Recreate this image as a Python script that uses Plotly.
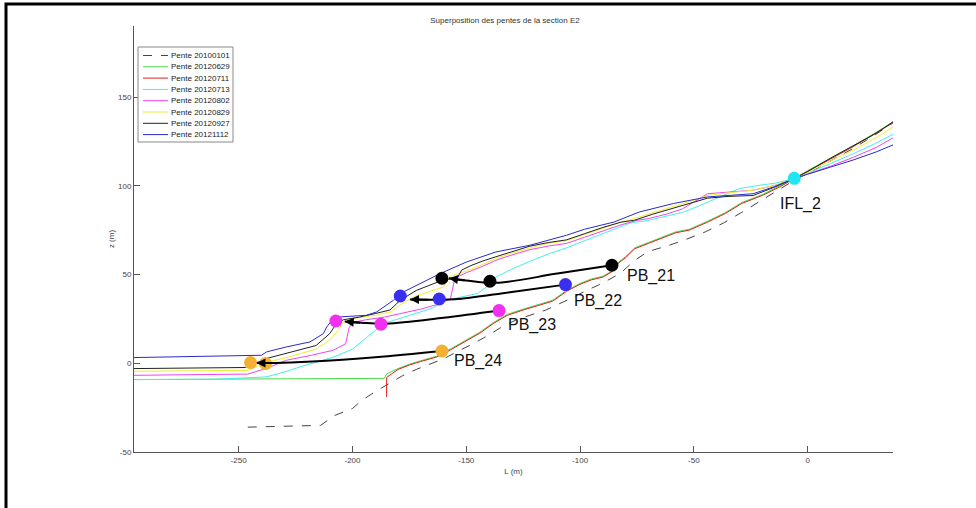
import plotly.graph_objects as go

# ---------------- data ----------------
series_names = ["Pente 20100101", "Pente 20120629", "Pente 20120711", "Pente 20120713",
                "Pente 20120802", "Pente 20120829", "Pente 20120927", "Pente 20121112"]

x_20100101 = [-246, -214, -208, -200, -196, -190, -184, -178, -172, -165, -160, -154, -147, -140, -135,
              -128, -122, -115, -110, -104, -98, -92, -86, -82, -76, -70, -62, -55, -45, -37, -29, -20,
              -12, -6, 0, 10, 20, 30, 37.5]
y_20100101 = [-36, -35, -29.5, -25.5, -21, -16, -11.5, -7, -3.5, 0, 2.5, 6.5, 11, 16, 20,
              24.5, 27, 30, 33, 36.5, 40.5, 44, 48, 51, 58, 63, 66, 69, 74, 79, 85, 92,
              98.5, 103, 107, 114, 121, 129, 135.5]

x_20120629 = [-296, -250, -220, -186, -185, -180, -175, -170, -163, -157, -150, -144, -138, -132, -125,
              -118, -112, -106, -100, -95, -90, -86, -84, -80, -76, -70, -65, -58, -52, -44, -36, -29,
              -20, -12, -6, 0, 10, 20, 30, 37.5]
y_20120629 = [-9.2, -9, -8.8, -8.5, -6, -3, -0.5, 1.5, 4, 8, 13, 17.5, 23, 27.5, 30.5,
              33, 35.5, 41, 45, 47.5, 49, 52, 56, 60, 65, 68, 70.5, 74, 75.5, 80, 85, 90.5,
              95, 100, 104, 108.5, 115.5, 122.5, 130, 136]

x_20120711 = [-185, -185, -180, -175, -170, -163, -157, -150, -144, -138, -132, -125,
              -118, -112, -106, -100, -95, -90, -86, -84, -80, -76, -70, -65, -58, -52, -44, -36, -29,
              -20, -12, -6, 0, 10, 20, 30, 37.5]
y_20120711 = [-19, -8, -3.5, -1, 1, 3.5, 7.5, 12.5, 17, 22.5, 27, 30,
              32.5, 35, 40.5, 44.5, 47, 48.5, 51.5, 55.5, 59.5, 64.5, 67.5, 70, 73.5, 75, 79.5, 84.5, 90,
              94.5, 99.5, 104, 108, 115, 122, 129.5, 135.5]

x_20120713 = [-296, -260, -238, -230, -223, -215, -208, -200, -194, -188, -186, -180, -173, -165, -159,
              -152, -145, -140, -137, -130, -122, -114, -106, -98, -90, -85, -78, -70, -62, -55, -48,
              -40, -30, -20, -14, -6, 0, 10, 20, 30, 37.5]
y_20120713 = [-9.2, -9, -7.7, -5, -2, 1, 3.6, 8, 14.5, 20.5, 22.5, 25, 28, 31, 35.5,
              37.5, 39.3, 44, 48.6, 53, 57.5, 61.5, 65, 69, 73, 75.5, 79, 80.5, 83, 85, 88.5,
              93, 98.4, 100.5, 101.5, 104, 107, 112.5, 118, 124, 129]

x_20120802 = [-296, -246, -238, -229, -218, -208.5, -203, -201.5, -200, -194, -186, -179, -170, -163,
              -157, -155, -150, -143, -137, -130, -122, -114, -106, -98, -90, -82, -75, -70, -62, -55,
              -44, -35, -24, -15, -6, 0, 10, 20, 30, 37.5]
y_20120802 = [-6.8, -6.1, -3, 1.7, 4.5, 7.3, 11, 20, 23, 24.5, 26, 28, 30.5, 33,
              36, 48, 51, 54.5, 58, 61, 64, 66, 67.5, 71, 74.5, 78, 80.5, 81.5, 84, 87,
              95.5, 96.5, 97.5, 100, 104, 106.5, 111, 116, 121.5, 127]

x_20120829 = [-296, -246, -238, -228, -216, -210, -206, -204, -198, -190, -183, -179, -172, -165, -160,
              -157, -150, -143, -137, -130, -122, -114, -106, -98, -90, -82, -75, -68, -60, -52, -44,
              -35, -24, -15, -6, 0, 10, 20, 30, 37.5]
y_20120829 = [-4.5, -4, 0.5, 3.5, 8, 13, 19, 23.5, 25.5, 27, 29, 33, 38, 41, 43,
              49, 52, 55.5, 59, 62, 65, 67.5, 69, 72.5, 76, 79.5, 82, 85, 88, 91, 94.5,
              96, 97.5, 100, 104, 107.5, 114, 120, 127, 133]

x_20120927 = [-296, -247, -238, -229, -216, -210, -207, -204, -197, -190, -183.5, -179, -172, -165, -160,
              -154, -152, -148, -143, -137, -130, -122, -114, -106, -98, -90, -82, -76, -68, -60, -52,
              -44, -35, -24, -15, -6, 0, 10, 20, 30, 37.5]
y_20120927 = [-3, -2.4, 2.6, 5.5, 10, 16.7, 22.4, 24.5, 26, 28, 30, 35.5, 41, 44.5, 47,
              48, 52.5, 55, 57.5, 60, 63, 66, 68, 69.5, 73, 76.5, 79.5, 80.6, 84, 87, 90,
              93, 94, 94.5, 99, 104, 108, 115.5, 122.5, 129.5, 136]

x_20121112 = [-296, -240, -237.7, -229, -218.7, -212.8, -211.3, -208.4, -205.5, -194, -189.4, -182, -179,
              -170, -161.5, -150, -137, -122, -106, -98, -85, -74, -59, -44, -35, -24, -15, -6, 0, 10,
              20, 30, 37.5]
y_20121112 = [3.2, 4.5, 6.4, 9.2, 12, 16.7, 20.5, 25.2, 26.1, 27, 28.9, 35.5, 39.3,
              45, 50.5, 57, 62.7, 66.5, 72.1, 75.5, 79.6, 85.2, 90, 93.7, 94.5, 95.5, 99.3, 104, 106.5, 110.5,
              114.5, 119, 123]

series_x = [x_20100101, x_20120629, x_20120711, x_20120713, x_20120802, x_20120829, x_20120927, x_20121112]
series_y = [y_20100101, y_20120629, y_20120711, y_20120713, y_20120802, y_20120829, y_20120927, y_20121112]
series_colors = ["#444444", "#44dd44", "#e02020", "#44eeee", "#ee44ee", "#eeee33", "#222222", "#2a2acc"]
series_dash = ["dash", "solid", "solid", "solid", "solid", "solid", "solid", "solid"]

# points (PB_xx) : start point (labelled), intermediate point, end point
pb_names = ["PB_21", "PB_22", "PB_23", "PB_24"]
pb_start_x = [-86.0, -106.4, -135.6, -160.7]
pb_start_y = [55.2, 44.3, 29.7, 6.9]
pb_mid_x = [-139.6, -161.9, -187.5, -238.2]
pb_mid_y = [46.2, 36.2, 22.0, -0.2]
pb_end_x = [-160.7, -179.0, -207.3, -244.8]
pb_end_y = [47.9, 37.9, 23.8, 0.4]
pb_colors = ["#000000", "#3a2ef0", "#f030ee", "#f2b134"]

# arrow paths (displacement curves)
arrow_x = [[-86.0, -110, -137, -150, -157.6],
           [-106.4, -130, -155, -166, -174.7],
           [-135.6, -160, -185, -196, -203.4],
           [-160.7, -190, -220, -234, -242.2]]
arrow_y = [[55.2, 50.5, 45.3, 46.6, 47.9],
           [44.3, 40.2, 36.0, 35.8, 35.9],
           [29.7, 25.6, 22.3, 22.8, 23.5],
           [6.9, 3.4, 0.8, 0.2, 0.2]]

ifl_name = "IFL_2"
ifl_x = [-5.9]
ifl_y = [104.2]

x_ticks = [-250, -200, -150, -100, -50, 0]
x_tick_text = ["-250", "-200", "-150", "-100", "-50", "0"]
y_ticks = [-50, 0, 50, 100, 150]
y_tick_text = ["-50", "0", "50", "100", "150"]
x_range = [-296, 37.5]
y_range = [-50, 190]

# ---------------- figure ----------------
W, H = 976, 508
ML, MR, MT, MB = 134, 83, 26, 56
PW, PH = W - ML - MR, H - MT - MB


def px(xp):
    return (xp - ML) / PW


def py(yp):
    return (H - MB - yp) / PH


fig = go.Figure()

for name, xs, ys, c, d in zip(series_names, series_x, series_y, series_colors, series_dash):
    fig.add_trace(go.Scatter(x=xs, y=ys, mode="lines", name=name,
                             line=dict(color=c, width=1, dash=d), showlegend=False,
                             hoverinfo="skip"))

for ax_, ay_ in zip(arrow_x, arrow_y):
    fig.add_trace(go.Scatter(x=ax_, y=ay_, mode="lines", line=dict(color="black", width=2, shape="spline"),
                             showlegend=False, hoverinfo="skip"))

for i, name in enumerate(pb_names):
    fig.add_trace(go.Scatter(x=[pb_start_x[i], pb_mid_x[i], pb_end_x[i]],
                             y=[pb_start_y[i], pb_mid_y[i], pb_end_y[i]],
                             mode="markers", name=name, showlegend=False,
                             marker=dict(color=pb_colors[i], size=13, line=dict(width=0))))

fig.add_trace(go.Scatter(x=ifl_x, y=ifl_y, mode="markers", name=ifl_name, showlegend=False,
                         marker=dict(color="#22e5f0", size=13, line=dict(width=0))))

annotations = []
# arrowheads
for ax_, ay_ in zip(arrow_x, arrow_y):
    annotations.append(dict(x=ax_[-1], y=ay_[-1], ax=ax_[-2], ay=ay_[-2], xref="x", yref="y",
                            axref="x", ayref="y", text="", showarrow=True, arrowhead=2,
                            arrowsize=0.9, arrowwidth=2, arrowcolor="black", standoff=0))

# labels
pb_shift = [(13, -11), (6, -16), (7, -14), (10, -10)]
for i, name in enumerate(pb_names):
    annotations.append(dict(x=pb_start_x[i], y=pb_start_y[i], text=name, showarrow=False,
                            xanchor="left", yanchor="middle", xshift=pb_shift[i][0], yshift=pb_shift[i][1],
                            font=dict(family="Liberation Sans, Arial", size=16, color="#111111")))
annotations.append(dict(x=ifl_x[0], y=ifl_y[0], text=ifl_name, showarrow=False,
                        xanchor="left", yanchor="middle", xshift=-16, yshift=-26,
                        font=dict(family="Liberation Sans, Arial", size=16, color="#111111")))

# manual legend (MATLAB style)
shapes = []
lg_x0, lg_x1, lg_y0, lg_y1 = 138, 233, 47, 142
shapes.append(dict(type="rect", xref="paper", yref="paper", x0=px(lg_x0), x1=px(lg_x1),
                   y0=py(lg_y1), y1=py(lg_y0), line=dict(color="#888888", width=1),
                   fillcolor="white", layer="above"))
for i, (name, c, d) in enumerate(zip(series_names, series_colors, series_dash)):
    yy = 55.5 + i * 11.3
    shapes.append(dict(type="line", xref="paper", yref="paper", x0=px(143), x1=px(168),
                       y0=py(yy), y1=py(yy), line=dict(color=c, width=1, dash=d), layer="above"))
    annotations.append(dict(xref="paper", yref="paper", x=px(169), y=py(yy), text=name,
                            showarrow=False, xanchor="left", yanchor="middle",
                            font=dict(family="Liberation Sans, Arial", size=8, color="#222222")))

# outer frame (screenshot border)
shapes.append(dict(type="rect", xref="paper", yref="paper", x0=px(6), x1=px(1100),
                   y0=py(700), y1=py(4), line=dict(color="black", width=3), layer="above"))

axis_font = dict(family="Liberation Sans, Arial", size=8, color="#444444")
fig.update_layout(
    width=W, height=H,
    margin=dict(l=ML, r=MR, t=MT, b=MB),
    paper_bgcolor="white", plot_bgcolor="white",
    title=dict(text="Superposition des pentes de la section E2", x=505 / W, xanchor="center",
               y=1 - 20 / H, yanchor="middle", font=dict(family="Liberation Sans, Arial", size=8, color="#333333")),
    xaxis=dict(range=x_range, tickvals=x_ticks, ticktext=x_tick_text, ticks="inside", ticklen=6,
               tickcolor="#555555", showline=True, linecolor="#555555", linewidth=1, showgrid=False,
               zeroline=False, tickfont=axis_font, title=dict(text="L (m)", font=axis_font, standoff=4)),
    yaxis=dict(range=y_range, tickvals=y_ticks, ticktext=y_tick_text, ticks="inside", ticklen=6,
               tickcolor="#555555", showline=True, linecolor="#555555", linewidth=1, showgrid=False,
               zeroline=False, tickfont=axis_font, title=dict(text="z (m)", font=axis_font, standoff=2)),
    shapes=shapes, annotations=annotations, showlegend=False,
)

fig.write_html("out.html", config={"displayModeBar": False},
               post_script="document.body.style.margin='0';document.body.style.overflow='hidden';")
